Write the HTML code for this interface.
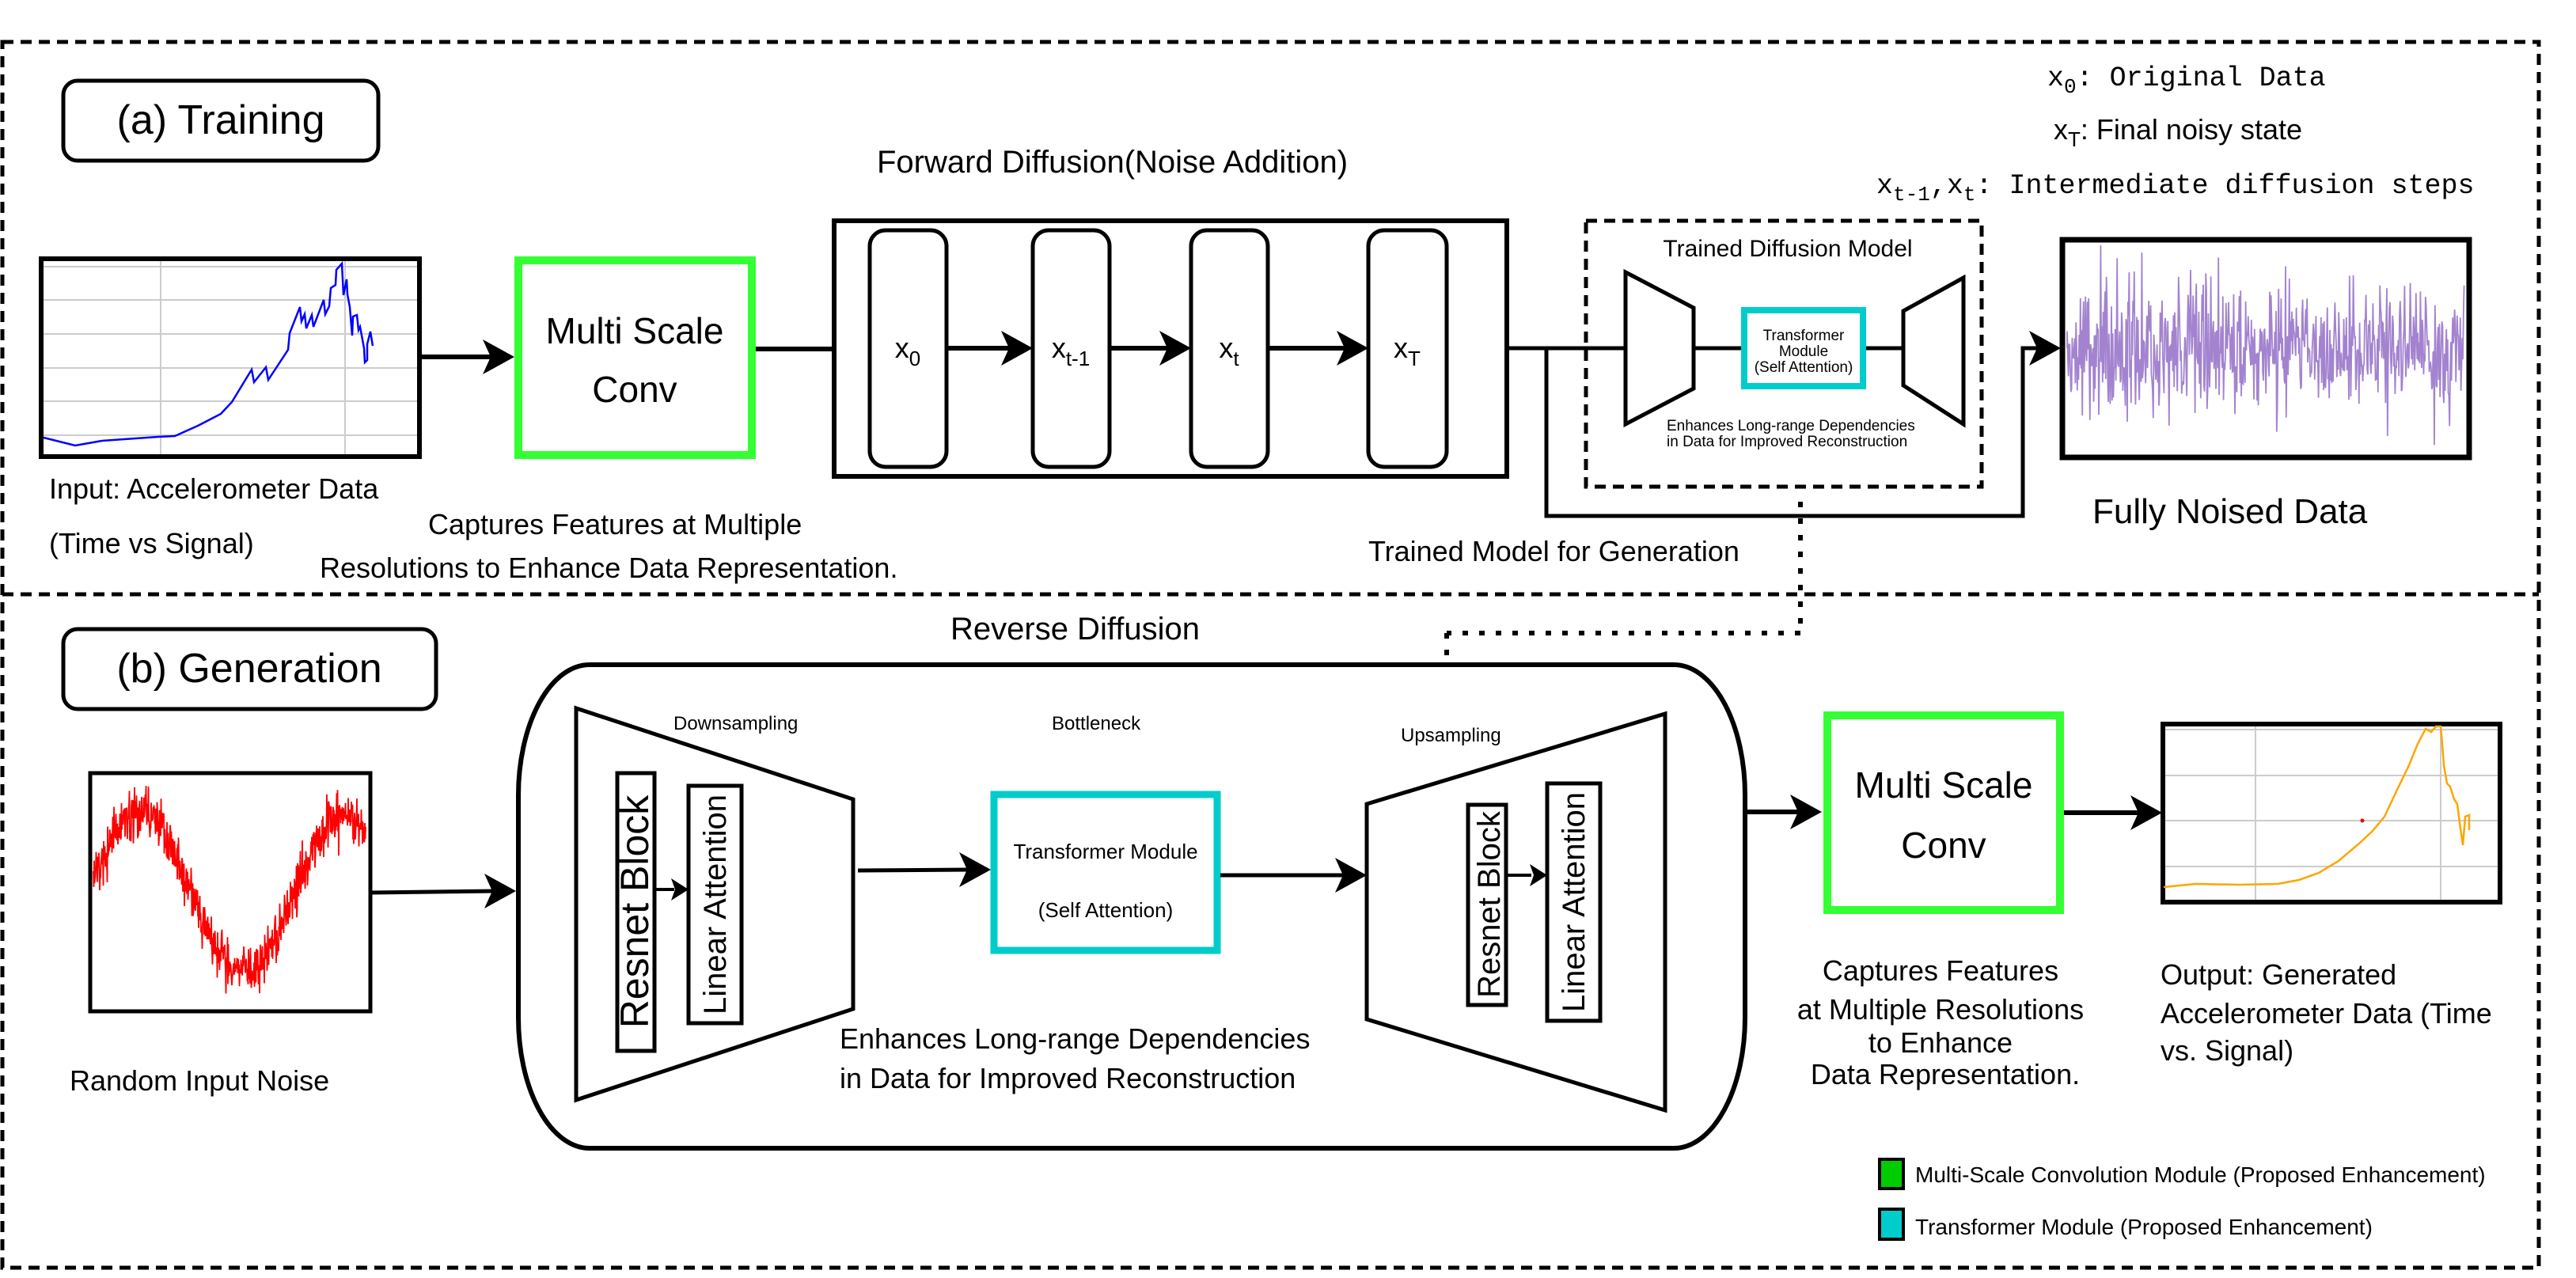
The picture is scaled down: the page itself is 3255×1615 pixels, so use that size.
<!DOCTYPE html>
<html><head><meta charset="utf-8"><style>
html,body{margin:0;padding:0;background:#fff;}
svg{display:block;}
text{font-family:"Liberation Sans",Arial,sans-serif;fill:#000;}
.mono{font-family:"Liberation Mono",monospace;}
</style></head><body>
<svg id="s" width="3255" height="1615" viewBox="0 0 3255 1615" xmlns="http://www.w3.org/2000/svg">
<defs>
<g id="ah"><path d="M0 0 L-40 -22 L-30 0 L-40 22 Z" fill="#000"/></g>
</defs>
<g fill="none" stroke="#000" stroke-width="5" stroke-dasharray="14 9">
<path d="M3 53 H3208 V1602 H3 Z"/>
<path d="M3 751 H3208"/>
</g>

<rect x="80" y="102" width="398" height="101" rx="18" fill="none" stroke="#000" stroke-width="5"/>
<text x="279" y="169" font-size="52" text-anchor="middle">(a) Training</text>
<text x="1108" y="218" font-size="40">Forward Diffusion(Noise Addition)</text>

<rect x="52" y="327" width="478" height="250" fill="#fff" stroke="#000" stroke-width="6"/>
<g stroke="#ccc" stroke-width="2">
<path d="M55 337H527M55 379H527M55 422H527M55 465H527M55 507H527M55 550H527M203 330V574M436 330V574"/>
</g>
<polyline fill="none" stroke="#0000ff" stroke-width="2.5" points="55,553 95,563 129,557 200,552 221,551 250,538 279,523 293,508 318,467 321,483 336,464 339,480 364,442 366,421 379,388 381,406 385,397 387,415 394,398 396,413 409,379 411,397 416,387 418,364 424,360 425,341 432,333 434,373 438,353 439,372 442,388 445,424 446,400 451,398 453,417 455,413 460,440 461,458 464,455 464,435 468,419 471,437"/>
<text x="62" y="630" font-size="36">Input: Accelerometer Data</text>
<text x="62" y="699" font-size="36">(Time vs Signal)</text>
<text x="541" y="675" font-size="36">Captures Features at Multiple</text>
<text x="404" y="730" font-size="36">Resolutions to Enhance Data Representation.</text>

<path d="M530 451 H620" stroke="#000" stroke-width="6"/>
<use href="#ah" x="650" y="451"/>
<rect x="655" y="329" width="295" height="246" fill="#fff" stroke="#33ff33" stroke-width="10"/>
<text x="802" y="434" font-size="46" text-anchor="middle">Multi Scale</text>
<text x="802" y="508" font-size="46" text-anchor="middle">Conv</text>
<path d="M955 441 H1052" stroke="#000" stroke-width="6"/>

<rect x="1054" y="279" width="850" height="323" fill="#fff" stroke="#000" stroke-width="6"/>
<g fill="#fff" stroke="#000" stroke-width="5">
<rect x="1099" y="291" width="97" height="299" rx="20"/>
<rect x="1305" y="291" width="97" height="299" rx="20"/>
<rect x="1505" y="291" width="97" height="299" rx="20"/>
<rect x="1729" y="291" width="99" height="299" rx="20"/>
</g>
<g stroke="#000" stroke-width="6"><path d="M1196 440H1280M1402 440H1480M1602 440H1705"/></g>
<use href="#ah" x="1305" y="440"/><use href="#ah" x="1505" y="440"/><use href="#ah" x="1729" y="440"/>
<g font-size="36" text-anchor="middle">
<text x="1147" y="452">x<tspan font-size="26" dy="10">0</tspan></text>
<text x="1353" y="452">x<tspan font-size="26" dy="10">t-1</tspan></text>
<text x="1553" y="452">x<tspan font-size="26" dy="10">t</tspan></text>
<text x="1778" y="452">x<tspan font-size="26" dy="10">T</tspan></text>
</g>

<rect x="2004" y="279" width="500" height="336" fill="none" stroke="#000" stroke-width="5" stroke-dasharray="14 9"/>
<text x="2259" y="324" font-size="30" text-anchor="middle">Trained Diffusion Model</text>
<path d="M1904 440 H2054 M2140 440 H2200 M2358 440 H2405" stroke="#000" stroke-width="5" fill="none"/>
<path d="M2054 344 L2140 389 L2140 491 L2054 536 Z" fill="#fff" stroke="#000" stroke-width="5"/>
<path d="M2481 351 L2405 393 L2405 487 L2481 536 Z" fill="#fff" stroke="#000" stroke-width="5"/>
<rect x="2204" y="392" width="150" height="96" fill="#fff" stroke="#00cccc" stroke-width="8"/>
<g font-size="19" text-anchor="middle">
<text x="2279" y="430">Transformer</text>
<text x="2279" y="450">Module</text>
<text x="2279" y="470">(Self Attention)</text>
</g>
<text x="2106" y="544" font-size="19">Enhances Long-range Dependencies</text>
<text x="2106" y="564" font-size="19">in Data for Improved Reconstruction</text>
<path d="M1954 440 V652 H2556 V440 H2580" fill="none" stroke="#000" stroke-width="5"/>
<use href="#ah" x="2604" y="440"/>

<rect x="2606" y="303" width="514" height="275" fill="#fff" stroke="#000" stroke-width="7"/>
<path id="purple" fill="none" stroke="#a383cf" stroke-width="1.8" d=""/>
<text x="2644" y="661" font-size="44">Fully Noised Data</text>
<text x="1729" y="709" font-size="36">Trained Model for Generation</text>

<g fill="none" stroke="#000" stroke-width="6" stroke-dasharray="7 14">
<path d="M2275 634 V800"/>
<path d="M2275 800 H1828"/>
<path d="M1828 800 V840"/>
</g>

<text class="mono" x="2587" y="108" font-size="35">x<tspan font-size="26" dy="9">0</tspan><tspan dy="-9">: Original Data</tspan></text>
<text x="2595" y="176" font-size="36">x<tspan font-size="26" dy="9">T</tspan><tspan dy="-9">: Final noisy state</tspan></text>
<text class="mono" x="2371" y="244" font-size="35">x<tspan font-size="26" dy="9">t-1</tspan><tspan dy="-9">,x</tspan><tspan font-size="26" dy="9">t</tspan><tspan dy="-9">: Intermediate diffusion steps</tspan></text>

<rect x="80" y="795" width="471" height="101" rx="18" fill="none" stroke="#000" stroke-width="5"/>
<text x="315" y="862" font-size="52" text-anchor="middle">(b) Generation</text>
<text x="1201" y="808" font-size="40">Reverse Diffusion</text>

<rect x="114" y="977" width="354" height="301" fill="#fff" stroke="#000" stroke-width="5"/>
<path id="red" fill="none" stroke="#ff0000" stroke-width="1.8" d=""/>
<text x="88" y="1378" font-size="36">Random Input Noise</text>
<path d="M468 1128 L625 1126" stroke="#000" stroke-width="5"/>
<use href="#ah" x="652" y="1126"/>

<rect x="655" y="840" width="1550" height="611" rx="90" ry="165" fill="none" stroke="#000" stroke-width="6"/>
<path d="M728 895 L1078 1010 L1078 1275 L728 1390 Z" fill="#fff" stroke="#000" stroke-width="5"/>
<text x="851" y="922" font-size="24">Downsampling</text>
<text x="1329" y="922" font-size="24">Bottleneck</text>
<text x="1770" y="937" font-size="24">Upsampling</text>
<rect x="780" y="977" width="47" height="351" fill="#fff" stroke="#000" stroke-width="5"/>
<text transform="translate(819 1152) rotate(-90)" font-size="50" text-anchor="middle">Resnet Block</text>
<rect x="870" y="993" width="67" height="300" fill="#fff" stroke="#000" stroke-width="5"/>
<text transform="translate(917 1143) rotate(-90)" font-size="40" text-anchor="middle">Linear Attention</text>
<path d="M828 1124 H852" stroke="#000" stroke-width="4"/><path d="M870 1124 L848 1110 L853 1124 L848 1138 Z"/>

<path d="M1084 1100 L1225 1099" stroke="#000" stroke-width="5"/>
<use href="#ah" x="1252" y="1099"/>
<rect x="1256" y="1004" width="282" height="197" fill="#fff" stroke="#00cccc" stroke-width="9"/>
<text x="1397" y="1085" font-size="26" text-anchor="middle">Transformer Module</text>
<text x="1397" y="1159" font-size="26" text-anchor="middle">(Self Attention)</text>
<text x="1061" y="1325" font-size="36">Enhances Long-range Dependencies</text>
<text x="1061" y="1375" font-size="36">in Data for Improved Reconstruction</text>
<path d="M1542 1106 H1700" stroke="#000" stroke-width="5"/>
<use href="#ah" x="1727" y="1106"/>

<path d="M1727 1016 L2104 902 L2104 1403 L1727 1288 Z" fill="#fff" stroke="#000" stroke-width="5"/>
<rect x="1855" y="1017" width="48" height="253" fill="#fff" stroke="#000" stroke-width="5"/>
<text transform="translate(1895 1143) rotate(-90)" font-size="40" text-anchor="middle">Resnet Block</text>
<rect x="1955" y="990" width="67" height="300" fill="#fff" stroke="#000" stroke-width="5"/>
<text transform="translate(2002 1140) rotate(-90)" font-size="40" text-anchor="middle">Linear Attention</text>
<path d="M1904 1106 H1935" stroke="#000" stroke-width="4"/><path d="M1955 1106 L1933 1092 L1938 1106 L1933 1120 Z"/>

<path d="M2205 1026 H2275" stroke="#000" stroke-width="6"/>
<use href="#ah" x="2302" y="1026"/>
<rect x="2309" y="904" width="294" height="246" fill="#fff" stroke="#33ff33" stroke-width="10"/>
<text x="2456" y="1008" font-size="46" text-anchor="middle">Multi Scale</text>
<text x="2456" y="1084" font-size="46" text-anchor="middle">Conv</text>
<path d="M2608 1027 H2705" stroke="#000" stroke-width="6"/>
<use href="#ah" x="2732" y="1027"/>

<rect x="2733" y="915" width="426" height="225" fill="#fff" stroke="#000" stroke-width="6"/>
<g stroke="#ccc" stroke-width="2"><path d="M2736 922H3156M2736 980H3156M2736 1037H3156M2736 1095H3156M2850 918V1137M3084 918V1137"/></g>
<polyline fill="none" stroke="#ffa500" stroke-width="2.5" points="2734,1121 2774,1117 2830,1118 2878,1117 2905,1112 2930,1103 2955,1088 2982,1065 2998,1050 3013,1032 3028,1000 3044,967 3055,940 3065,921 3072,925 3078,918 3084,918 3086,940 3088,967 3092,990 3096,994 3101,1010 3105,1016 3108,1040 3112,1068 3114,1045 3115,1032 3120,1030 3120,1049"/>
<circle cx="2985" cy="1037" r="2.5" fill="#e00"/>
<g font-size="36" text-anchor="middle">
<text x="2452" y="1239">Captures Features</text>
<text x="2452" y="1288">at Multiple Resolutions</text>
<text x="2452" y="1330">to Enhance</text>
<text x="2458" y="1370">Data Representation.</text>
</g>
<text x="2730" y="1244" font-size="36">Output: Generated</text>
<text x="2730" y="1293" font-size="36">Accelerometer Data (Time</text>
<text x="2730" y="1340" font-size="36">vs. Signal)</text>

<rect x="2375" y="1465" width="30" height="37" fill="#00cc00" stroke="#000" stroke-width="4"/>
<text x="2420" y="1494" font-size="28">Multi-Scale Convolution Module (Proposed Enhancement)</text>
<rect x="2375" y="1528" width="30" height="38" fill="#00cccc" stroke="#000" stroke-width="4"/>
<text x="2420" y="1560" font-size="28">Transformer Module (Proposed Enhancement)</text>
</svg>
<script>
var seed=7;function r(){seed=(seed*16807)%2147483647;return seed/2147483647;}
function g(){return (r()+r()+r()-1.5)/1.5;}
var d="M2612 440";
for(var x=2612;x<=3114;x+=0.8){var a=g()*110; if(r()<0.06)a*=1.6; d+=" L"+x.toFixed(1)+" "+Math.max(310,Math.min(572,440+a)).toFixed(1);}
document.getElementById("purple").setAttribute("d",d);
var d2="";var first=true;
for(var x=118;x<=462;x+=0.5){var t=(x-118)/(462-118);var base=1128-Math.sin(t*2*Math.PI*1.32+0.15)*100; var y=base+g()*45; if(r()<0.04)y+=g()*50; y=Math.max(980,Math.min(1275,y)); d2+=(first?"M":" L")+x.toFixed(1)+" "+y.toFixed(1); first=false;}
document.getElementById("red").setAttribute("d",d2);
</script>
</body></html>
